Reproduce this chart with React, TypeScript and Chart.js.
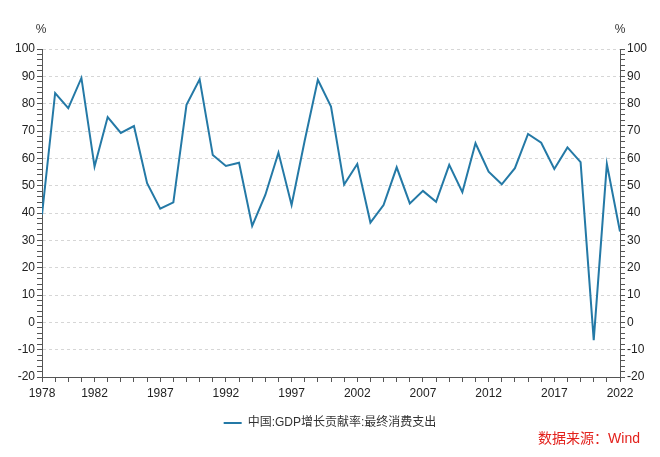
import React, { useEffect, useRef } from "react";
import { Chart, registerables } from "chart.js";

Chart.register(...registerables);

const years: number[] = [
  1978, 1979, 1980, 1981, 1982, 1983, 1984, 1985, 1986, 1987, 1988, 1989, 1990, 1991, 1992,
  1993, 1994, 1995, 1996, 1997, 1998, 1999, 2000, 2001, 2002, 2003, 2004, 2005, 2006, 2007,
  2008, 2009, 2010, 2011, 2012, 2013, 2014, 2015, 2016, 2017, 2018, 2019, 2020, 2021, 2022,
];
const consumption: number[] = [
  39.4, 83.9, 78.4, 89.4, 57.0, 75.1, 69.3, 71.8, 50.9, 41.6, 43.9, 79.6, 88.9, 61.2, 57.2,
  58.4, 35.3, 46.6, 62.1, 42.9, 66.5, 88.7, 78.9, 50.4, 57.9, 36.5, 42.9, 56.7, 43.5, 48.1,
  44.1, 57.6, 47.6, 65.5, 55.1, 50.5, 56.4, 68.9, 65.7, 56.1, 64.0, 58.6, -6.5, 57.9, 33.2,
];
const xTickLabels: number[] = [1978, 1982, 1987, 1992, 1997, 2002, 2007, 2012, 2017, 2022];
const seriesName = "中国:GDP增长贡献率:最终消费支出";
const sourceText = "数据来源：Wind";
const unitText = "%";

const FONT = 'Helvetica, Arial, "Liberation Sans", "Noto Sans CJK SC", sans-serif';
const LINE_COLOR = "#2479a6";
const AXIS_COLOR = "#555555";

export default function App() {
  const ref = useRef<HTMLCanvasElement | null>(null);

  useEffect(() => {
    if (!ref.current) return;
    const extras = {
      id: "extras",
      afterDraw(chart: any) {
        const { ctx, chartArea } = chart;
        ctx.save();
        ctx.fillStyle = "#333";
        ctx.font = `12px ${FONT}`;
        ctx.textAlign = "center";
        ctx.textBaseline = "middle";
        ctx.fillText(unitText, chartArea.left - 1, 30);
        ctx.fillText(unitText, chartArea.right, 30);
        ctx.fillStyle = "#e3211c";
        ctx.font = `14px ${FONT}`;
        ctx.textAlign = "right";
        ctx.fillText(sourceText, 640, 439);
        ctx.restore();
      },
    };
    const yCommon = (position: "left" | "right", width: number) => ({
      type: "linear" as const,
      position,
      min: -20,
      max: 100,
      afterFit: (s: any) => {
        s.width = width;
      },
      ticks: {
        stepSize: 2,
        autoSkip: false,
        padding: 2,
        color: "#222",
        font: { family: FONT, size: 12 },
        callback: (v: any) => (Number(v) % 10 === 0 ? String(v) : ""),
      },
      border: { color: AXIS_COLOR, width: 1, dash: [3, 3] },
      grid: {
        drawOnChartArea: position === "left",
        color: (c: any) =>
          c.tick && Math.round(c.tick.value) % 10 === 0 ? "#d6d6d6" : "rgba(0,0,0,0)",
        tickColor: AXIS_COLOR,
        tickBorderDash: [],
        tickLength: 5,
        lineWidth: 1,
      },
    });
    const chart = new Chart(ref.current, {
      type: "line",
      data: {
        datasets: [
          {
            label: seriesName,
            data: years.map((y, i) => ({ x: y, y: consumption[i] })),
            borderColor: LINE_COLOR,
            backgroundColor: LINE_COLOR,
            borderWidth: 2,
            pointRadius: 0,
            pointStyle: "line",
            tension: 0,
          },
        ],
      },
      options: {
        animation: false,
        responsive: false,
        maintainAspectRatio: false,
        layout: { padding: { top: 49, left: 0, right: 0, bottom: 18 } },
        scales: {
          x: {
            type: "linear",
            min: 1978,
            max: 2022,
            afterFit: (s: any) => {
              s.height = 30;
            },
            ticks: {
              stepSize: 1,
              autoSkip: false,
              maxRotation: 0,
              color: "#222",
              padding: 4,
              font: { family: FONT, size: 12 },
              callback: (v: any) => (xTickLabels.includes(Number(v)) ? String(v) : ""),
            },
            border: { color: AXIS_COLOR, width: 1 },
            grid: { drawOnChartArea: false, tickColor: AXIS_COLOR, tickLength: 5 },
          },
          y: yCommon("left", 42),
          y2: yCommon("right", 40),
        },
        plugins: {
          legend: {
            position: "bottom",
            labels: {
              usePointStyle: true,
              pointStyle: "line",
              pointStyleWidth: 18,
              boxHeight: 8,
              color: "#333",
              font: { family: FONT, size: 12 },
            },
          },
          tooltip: { enabled: false },
        },
      },
      plugins: [extras],
    });
    return () => chart.destroy();
  }, []);

  return (
    <div style={{ position: "fixed", left: 0, top: 0, width: 660, height: 457, background: "#fff" }}>
      <canvas ref={ref} width={660} height={457} style={{ width: 660, height: 457 }} />
    </div>
  );
}
